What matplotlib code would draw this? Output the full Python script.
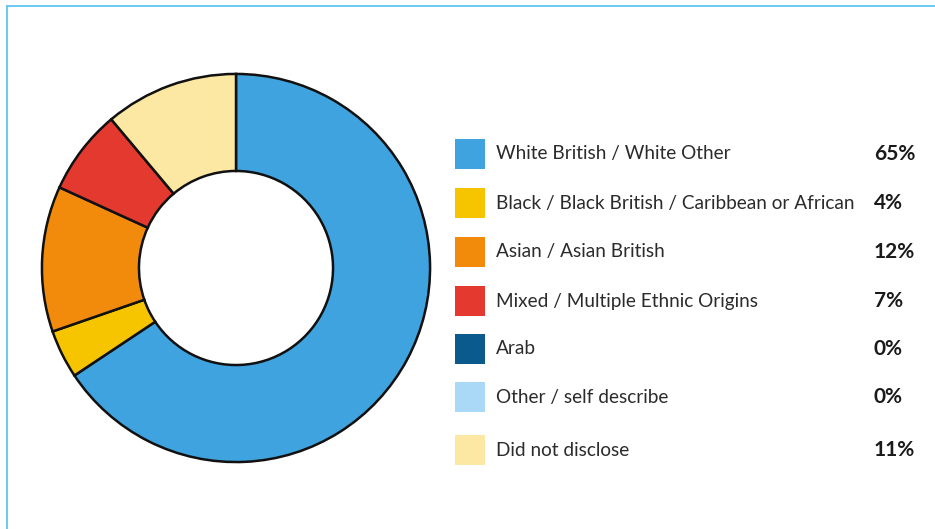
import matplotlib
matplotlib.use("Agg")
import matplotlib.pyplot as plt
from matplotlib.lines import Line2D
from matplotlib.patches import Rectangle

categories = [
    "White British / White Other",
    "Black / Black British / Caribbean or African",
    "Asian / Asian British",
    "Mixed / Multiple Ethnic Origins",
    "Arab",
    "Other / self describe",
    "Did not disclose",
]
shares = [65, 4, 12, 7, 0, 0, 11]
colors = ["#3fa3df", "#f6c500", "#f28b0c", "#e3392f", "#0b5a8e", "#a9d9f6", "#fce8a2"]

W, H = 935, 529
fig = plt.figure(figsize=(W / 100, H / 100), dpi=100)
fig.patch.set_facecolor("white")

# thin light-blue frame along top and left edges
frame_c = "#5cc6ef"
fig.add_artist(Line2D([7 / W, 1.0], [1 - 6 / H, 1 - 6 / H], color=frame_c, lw=1.3,
                      transform=fig.transFigure))
fig.add_artist(Line2D([7 / W, 7 / W], [0, 1 - 6 / H], color=frame_c, lw=1.3,
                      transform=fig.transFigure))

# donut
cx, cy, r = 236, 268, 196
ax = fig.add_axes([(cx - r) / W, (H - cy - r) / H, 2 * r / W, 2 * r / H])
vals = [v for v in shares if v > 0]
cols = [c for v, c in zip(shares, colors) if v > 0]
ax.pie(vals, colors=cols, startangle=90, counterclock=False, radius=1.0,
       wedgeprops=dict(width=0.5, edgecolor="#111111", linewidth=1.8))
ax.set_xlim(-1.01, 1.01)
ax.set_ylim(-1.01, 1.01)
ax.set_aspect("equal")
ax.axis("off")

# legend with values
font = ["Lato", "DejaVu Sans"]
rows_y = [154, 203, 252, 301, 349, 397, 450]
for name, val, col, y in zip(categories, shares, colors, rows_y):
    fig.add_artist(Rectangle(((455) / W, (H - y - 15) / H), 30 / W, 30 / H,
                             facecolor=col, edgecolor="none",
                             transform=fig.transFigure))
    fig.text(496 / W, (H - y) / H, name, fontsize=13.7, color="#2b2b2b",
             va="center", ha="left", family=font)
    fig.text(874 / W, (H - y) / H, f"{val}%", fontsize=15, color="#1a1a1a",
             va="center", ha="left", fontweight="bold", family=font)

fig.savefig("out.png", dpi=100, facecolor="white")
